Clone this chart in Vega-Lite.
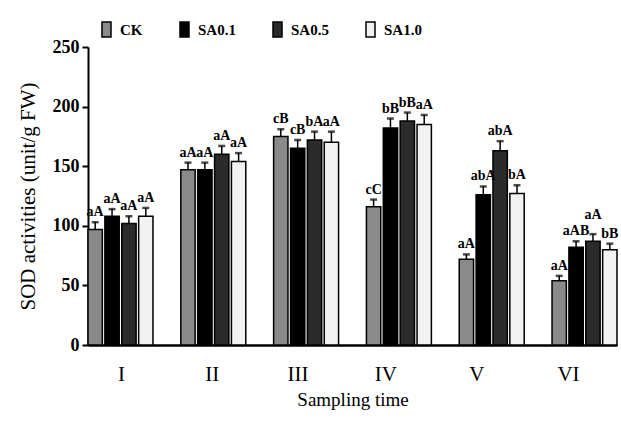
{
  "$schema": "https://vega.github.io/schema/vega-lite/v6.json",
  "autosize": {"type": "none"},
  "width": 529,
  "height": 298,
  "padding": {"left": 88, "top": 47, "right": 4, "bottom": 87},
  "background": "white",
  "data": {"values": [
    {"time": "I", "trt": "CK", "mean": 97, "hi": 103, "lab": "aA"},
    {"time": "I", "trt": "SA0.1", "mean": 108, "hi": 114, "lab": "aA"},
    {"time": "I", "trt": "SA0.5", "mean": 102, "hi": 108, "lab": "aA"},
    {"time": "I", "trt": "SA1.0", "mean": 108, "hi": 115, "lab": "aA"},
    {"time": "II", "trt": "CK", "mean": 147, "hi": 153, "lab": "aA"},
    {"time": "II", "trt": "SA0.1", "mean": 147, "hi": 153, "lab": "aA"},
    {"time": "II", "trt": "SA0.5", "mean": 160, "hi": 167, "lab": "aA"},
    {"time": "II", "trt": "SA1.0", "mean": 154, "hi": 161, "lab": "aA"},
    {"time": "III", "trt": "CK", "mean": 175, "hi": 181, "lab": "cB"},
    {"time": "III", "trt": "SA0.1", "mean": 165, "hi": 172, "lab": "cB"},
    {"time": "III", "trt": "SA0.5", "mean": 172, "hi": 179, "lab": "bA"},
    {"time": "III", "trt": "SA1.0", "mean": 170, "hi": 179, "lab": "aA"},
    {"time": "IV", "trt": "CK", "mean": 116, "hi": 122, "lab": "cC"},
    {"time": "IV", "trt": "SA0.1", "mean": 182, "hi": 190, "lab": "bB"},
    {"time": "IV", "trt": "SA0.5", "mean": 188, "hi": 195, "lab": "bB"},
    {"time": "IV", "trt": "SA1.0", "mean": 185, "hi": 193, "lab": "aA"},
    {"time": "V", "trt": "CK", "mean": 72, "hi": 76, "lab": "aA"},
    {"time": "V", "trt": "SA0.1", "mean": 126, "hi": 133, "lab": "abA"},
    {"time": "V", "trt": "SA0.5", "mean": 163, "hi": 171, "lab": "abA"},
    {"time": "V", "trt": "SA1.0", "mean": 127, "hi": 134, "lab": "bA"},
    {"time": "VI", "trt": "CK", "mean": 54, "hi": 58, "lab": "aA"},
    {"time": "VI", "trt": "SA0.1", "mean": 82, "hi": 87, "lab": "aAB"},
    {"time": "VI", "trt": "SA0.5", "mean": 87, "hi": 93, "lab": "aA"},
    {"time": "VI", "trt": "SA1.0", "mean": 80, "hi": 85, "lab": "bB"}
  ]},
  "encoding": {
    "x": {
      "field": "time", "type": "nominal",
      "sort": ["I", "II", "III", "IV", "V", "VI"],
      "scale": {"paddingInner": 0.3, "paddingOuter": 0},
      "axis": {
        "title": "Sampling time",
        "labelAngle": 0,
        "ticks": false,
        "labelPadding": 18,
        "labelFontSize": 21,
        "labelOffset": {"condition": [
          {"test": "datum.value === 'I'", "value": 1},
          {"test": "datum.value === 'II'", "value": -1},
          {"test": "datum.value === 'III'", "value": -8},
          {"test": "datum.value === 'IV'", "value": -13},
          {"test": "datum.value === 'V'", "value": -15}
        ], "value": -16},
        "titleFontSize": 19,
        "titleFontWeight": "normal",
        "titlePadding": 6,
        "domainWidth": 2.5
      }
    },
    "xOffset": {
      "field": "trt", "type": "nominal",
      "sort": ["CK", "SA0.1", "SA0.5", "SA1.0"],
      "scale": {"paddingInner": 0.15, "paddingOuter": 0}
    }
  },
  "layer": [
    {
      "mark": {"type": "bar", "stroke": "black", "strokeWidth": 1.5},
      "encoding": {
        "y": {
          "field": "mean", "type": "quantitative",
          "scale": {"domain": [0, 250], "nice": false},
          "axis": {
            "title": "SOD activities (unit/g FW)",
            "values": [0, 50, 100, 150, 200, 250],
            "grid": false,
            "tickSize": 6,
            "tickWidth": 2,
            "labelFontSize": 18,
            "labelFontWeight": "bold",
            "labelPadding": 3,
            "titleFontSize": 21,
            "titleFontWeight": "normal",
            "titlePadding": 14,
            "domainWidth": 2
          }
        },
        "color": {
          "field": "trt", "type": "nominal",
          "sort": ["CK", "SA0.1", "SA0.5", "SA1.0"],
          "scale": {"domain": ["CK", "SA0.1", "SA0.5", "SA1.0"], "range": ["#8a8a8a", "#000000", "#2b2b2b", "#f2f2f2"]},
          "legend": {
            "title": null,
            "orient": "none",
            "legendX": 10,
            "legendY": -26,
            "direction": "horizontal",
            "symbolType": "M-0.6,-1L0.6,-1L0.6,1L-0.6,1Z",
            "symbolSize": 225,
            "symbolStrokeColor": "black",
            "symbolStrokeWidth": 1.5,
            "symbolOpacity": 1,
            "labelFontSize": 15,
            "labelFontWeight": "bold",
            "labelOffset": 5,
            "columnPadding": 33,
            "padding": 0
          }
        }
      }
    },
    {
      "mark": {"type": "rule", "color": "black", "strokeWidth": 1.5},
      "encoding": {
        "y": {"field": "mean", "type": "quantitative"},
        "y2": {"field": "hi"}
      }
    },
    {
      "mark": {"type": "tick", "color": "black", "size": 7, "thickness": 2.5, "orient": "horizontal"},
      "encoding": {
        "y": {"field": "hi", "type": "quantitative"}
      }
    },
    {
      "transform": [{"filter": "!(datum.time === 'VI' && datum.trt === 'SA0.5')"}],
      "mark": {"type": "text", "baseline": "bottom", "dy": -3, "fontSize": 14, "fontWeight": "bold", "color": "black"},
      "encoding": {
        "y": {"field": "hi", "type": "quantitative"},
        "text": {"field": "lab"}
      }
    },
    {
      "transform": [{"filter": "datum.time === 'VI' && datum.trt === 'SA0.5'"}],
      "mark": {"type": "text", "baseline": "bottom", "dy": -12, "fontSize": 14, "fontWeight": "bold", "color": "black"},
      "encoding": {
        "y": {"field": "hi", "type": "quantitative"},
        "text": {"field": "lab"}
      }
    }
  ],
  "config": {
    "font": "Liberation Serif",
    "view": {"stroke": null},
    "axis": {
      "domainColor": "black",
      "tickColor": "black",
      "labelColor": "black",
      "titleColor": "black",
      "labelFont": "Liberation Serif",
      "titleFont": "Liberation Serif"
    },
    "legend": {"labelFont": "Liberation Serif", "labelColor": "black"},
    "text": {"font": "Liberation Serif"}
  }
}
